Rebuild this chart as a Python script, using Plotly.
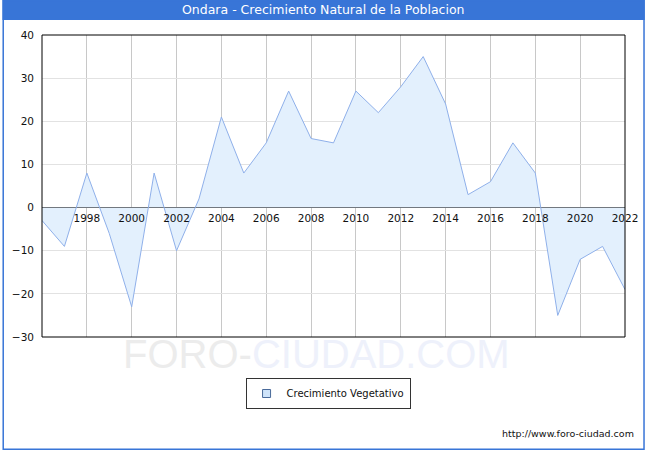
import plotly.graph_objects as go

# datos
years = list(range(1996, 2023))
crecimiento = [-3, -9, 8, -6, -23, 8, -10, 2, 21, 8, 15, 27, 16, 15, 27, 22, 28, 35, 24,
               3, 6, 15, 8, -25, -12, -9, -19]
tick_years = list(range(1998, 2023, 2))
y_ticks = [-30, -20, -10, 0, 10, 20, 30, 40]

W, H = 650, 450
L, R, T, B = 40, 20, 35, 113
PW, PH = W - L - R, H - T - B


def px(p):
    return (p - L) / PW


def py(p):
    return (H - B - p) / PH


fig = go.Figure()
fig.add_trace(go.Scatter(
    x=years, y=crecimiento, mode="lines", fill="tozeroy",
    name="Crecimiento Vegetativo", showlegend=False,
    line=dict(color="#8fb0ea", width=1),
    fillcolor="#e3f0fd", hoverinfo="skip",
))
# entrada de leyenda con cuadradito
fig.add_trace(go.Scatter(
    x=[None], y=[None], mode="markers", name="Crecimiento Vegetativo",
    marker=dict(symbol="square", size=8, color="#cfe4fa", line=dict(color="#4a6a9a", width=1)),
))

shapes = [
    # barra del titulo
    dict(type="rect", xref="paper", yref="paper", x0=px(0), x1=px(W), y0=py(20), y1=py(0),
         fillcolor="#3875d7", line=dict(width=0), layer="above"),
    # borde exterior
    dict(type="rect", xref="paper", yref="paper", x0=px(0.75), x1=px(W - 0.75), y0=py(H - 0.75), y1=py(0.75),
         line=dict(color="#3875d7", width=1.5), layer="above"),
    # marco del area
    dict(type="rect", xref="paper", yref="paper", x0=0, x1=1, y0=0, y1=1,
         line=dict(color="black", width=1), layer="above"),
    # sombra de la leyenda
    dict(type="rect", xref="paper", yref="paper", x0=px(249), x1=px(409), y0=py(401), y1=py(381),
         fillcolor="#444444", line=dict(width=0), layer="below"),
]

fig.update_layout(
    width=W, height=H,
    margin=dict(l=L, r=R, t=T, b=B),
    paper_bgcolor="white", plot_bgcolor="white",
    font=dict(family="DejaVu Sans", size=10.5, color="#111111"),
    showlegend=True,
    legend=dict(x=px(246), y=py(378), xanchor="left", yanchor="top",
                bgcolor="white", bordercolor="#333333", borderwidth=1,
                font=dict(size=10), itemwidth=30),
    shapes=shapes,
    annotations=[
        dict(text="Ondara - Crecimiento Natural de la Poblacion", xref="paper", yref="paper",
             x=px(W / 2), y=py(10), showarrow=False, font=dict(color="white", size=12.5),
             xanchor="center", yanchor="middle"),
        dict(text="<span style='color:#ececec'>FORO-</span><span style='color:#eef1fb'>CIUDAD.COM</span>",
             xref="paper", yref="paper", x=px(318), y=py(354), showarrow=False,
             font=dict(family="Liberation Sans", size=40), xanchor="center", yanchor="middle"),
        dict(text="http://www.foro-ciudad.com", xref="paper", yref="paper",
             x=px(641), y=py(433), showarrow=False, font=dict(size=9.5, color="#111111"),
             xanchor="right", yanchor="middle"),
    ],
)

fig.update_xaxes(
    range=[1996, 2022], tickvals=tick_years, ticktext=[str(t) for t in tick_years],
    showgrid=True, gridcolor="#c8c8c8", gridwidth=1, ticklabelstandoff=3,
    anchor="free", position=30 / 70, showline=False, zeroline=False, ticks="",
)
fig.update_yaxes(
    range=[-30, 40], tickvals=y_ticks, showgrid=True, gridcolor="#e2e2e2", gridwidth=1,
    zeroline=True, zerolinecolor="black", zerolinewidth=1, ticks="", ticklabelstandoff=7,
)

fig.write_html("out.html", config={"displayModeBar": False},
               post_script="document.body.style.margin='0';document.body.style.overflow='hidden';")
